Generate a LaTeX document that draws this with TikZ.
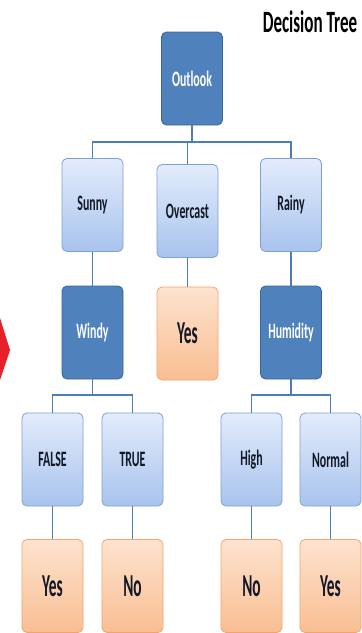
\documentclass[tikz,border=0pt]{standalone}
\usepackage{fontspec}
\setmainfont{Carlito}
\usepackage{graphicx}
\definecolor{dkfill}{HTML}{4F81BD}
\definecolor{dkborder}{HTML}{3A659A}
\definecolor{ltTop}{HTML}{E3ECFB}
\definecolor{ltBot}{HTML}{A8C3EE}
\definecolor{ltBorder}{HTML}{7E9FD6}
\definecolor{orTop}{HTML}{FDE3CF}
\definecolor{orBot}{HTML}{F9BE92}
\definecolor{orBorder}{HTML}{F4A46A}
\definecolor{txt}{HTML}{121826}
\definecolor{conn}{HTML}{4A7EBB}
\definecolor{chev}{HTML}{E8202A}
\newcommand{\boxlbl}[1]{\scalebox{0.54}[1]{\fontsize{22}{22}\selectfont\bfseries #1}}
\newcommand{\leaflbl}[1]{\scalebox{0.48}[1]{\fontsize{32}{32}\selectfont\bfseries #1}}
\begin{document}
\begin{tikzpicture}[x=1pt,y=-1pt,
  box/.style={rectangle, rounded corners=5pt, minimum width=61pt, minimum height=93pt, inner sep=0pt, line width=0.8pt},
  dark/.style={box, fill=dkfill, draw=dkborder, text=white},
  light/.style={box, top color=ltTop, bottom color=ltBot, draw=ltBorder, text=txt},
  leaf/.style={box, top color=orTop, bottom color=orBot, draw=orBorder, text=txt},
  link/.style={draw=conn, line width=1.1pt}]
\useasboundingbox (0,0) rectangle (362,633);
% red chevron tip at the left edge
\fill[chev] (0,318) -- (10,350) -- (0,380) -- cycle;
% title
\node[text=black] (title) at (310,22) {\scalebox{0.55}[1]{\fontsize{31}{31}\selectfont\bfseries Decision Tree}};
% nodes
\node[dark] (outlook) at (192,78.5) {\boxlbl{Outlook}};
\node[light] (sunny) at (92.5,205) {\boxlbl{Sunny}};
\node[light] (overcast) at (187.5,211) {\boxlbl{Overcast}};
\node[light] (rainy) at (291,205) {\boxlbl{Rainy}};
\node[dark] (windy) at (92.5,332.5) {\boxlbl{Windy}};
\node[leaf] (yes1) at (187.5,333.5) {\leaflbl{Yes}};
\node[dark] (humidity) at (291,332.5) {\boxlbl{Humidity}};
\node[light] (false) at (52.5,459.5) {\boxlbl{FALSE}};
\node[light] (true) at (132.5,459.5) {\boxlbl{TRUE}};
\node[light] (high) at (251.5,459.5) {\boxlbl{High}};
\node[light] (normal) at (330.5,459.5) {\boxlbl{Normal}};
\node[leaf] (yesA) at (52.5,586) {\leaflbl{Yes}};
\node[leaf] (noA) at (132.5,586) {\leaflbl{No}};
\node[leaf] (noB) at (251.5,586) {\leaflbl{No}};
\node[leaf] (yesB) at (330.5,586) {\leaflbl{Yes}};
% bus coordinates
\coordinate (b1) at (192,142);
\coordinate (b2) at (92.5,395);
\coordinate (b3) at (291,395);
% connectors
\draw[link] (outlook.south) -- (b1);
\draw[link] (sunny.north) |- (b1) -| (rainy.north);
\draw[link] (overcast.north) -- (overcast.north |- b1);
\draw[link] (sunny.south) -- (windy.north);
\draw[link] (overcast.south) -- (yes1.north);
\draw[link] (rainy.south) -- (humidity.north);
\draw[link] (windy.south) -- (b2);
\draw[link] (false.north) |- (b2) -| (true.north);
\draw[link] (humidity.south) -- (b3);
\draw[link] (high.north) |- (b3) -| (normal.north);
\draw[link] (false.south) -- (yesA.north);
\draw[link] (true.south) -- (noA.north);
\draw[link] (high.south) -- (noB.north);
\draw[link] (normal.south) -- (yesB.north);
\end{tikzpicture}
\end{document}
